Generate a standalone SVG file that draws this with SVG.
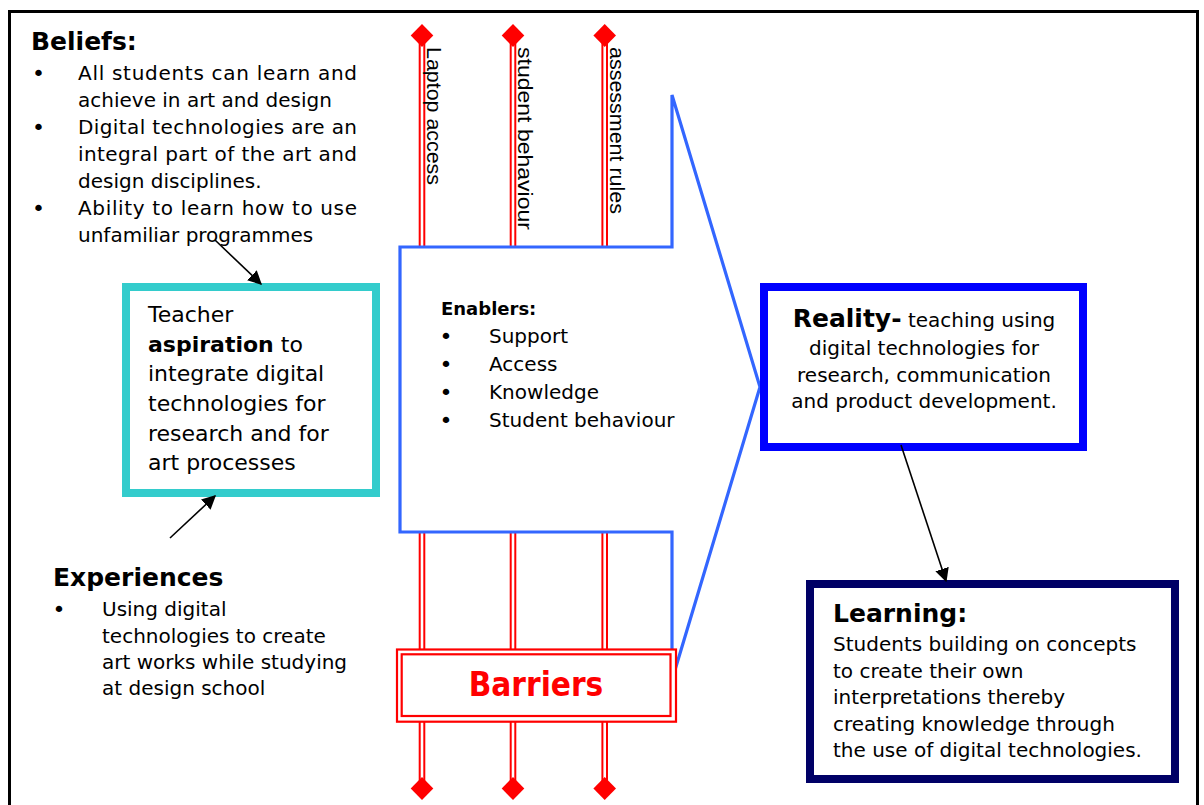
<svg xmlns="http://www.w3.org/2000/svg" width="1204" height="805" viewBox="0 0 1204 805">
<defs>
<style>
text{font-family:"DejaVu Sans",Verdana,sans-serif;fill:#000;font-size:20px}
.b{font-weight:bold}
.h{font-size:25px;font-weight:bold}
.bu{font-size:22px;text-anchor:middle}
.vt{font-family:"Liberation Sans",Arial,sans-serif;font-size:21px}
.red{stroke:#ff0000;stroke-width:2;fill:none}
.dia{fill:#ff0000}
</style>
<marker id="ahb" viewBox="0 0 10 10" refX="9" refY="5" markerWidth="14" markerHeight="14" markerUnits="userSpaceOnUse" orient="auto">
<path d="M0,0 L10,5 L0,10 z" fill="#000"/>
</marker>
</defs>
<rect width="1204" height="805" fill="#fff"/>
<rect x="9.5" y="11.5" width="1188" height="810" fill="none" stroke="#000" stroke-width="3"/>

<g id="forces">
<g id="laptop">
<line class="red" x1="419.7" y1="35" x2="419.7" y2="788"/>
<line class="red" x1="424.3" y1="35" x2="424.3" y2="788"/>
<path class="dia" d="M422,24 L433.3,35.5 L422,47 L410.7,35.5 z"/>
<path class="dia" d="M422,777 L433.3,788.5 L422,800 L410.7,788.5 z"/>
<text class="vt" transform="translate(427,47) rotate(90)" textLength="138" lengthAdjust="spacingAndGlyphs">Laptop access</text>
</g>
<g id="behaviour">
<line class="red" x1="510.7" y1="35" x2="510.7" y2="788"/>
<line class="red" x1="515.3" y1="35" x2="515.3" y2="788"/>
<path class="dia" d="M513,24 L524.3,35.5 L513,47 L501.7,35.5 z"/>
<path class="dia" d="M513,777 L524.3,788.5 L513,800 L501.7,788.5 z"/>
<text class="vt" transform="translate(518,47) rotate(90)" textLength="183" lengthAdjust="spacingAndGlyphs">student behaviour</text>
</g>
<g id="assessment">
<line class="red" x1="602.4" y1="35" x2="602.4" y2="788"/>
<line class="red" x1="607" y1="35" x2="607" y2="788"/>
<path class="dia" d="M604.7,24 L616,35.5 L604.7,47 L593.4,35.5 z"/>
<path class="dia" d="M604.7,777 L616,788.5 L604.7,800 L593.4,788.5 z"/>
<text class="vt" transform="translate(610,47) rotate(90)" textLength="167" lengthAdjust="spacingAndGlyphs">assessment rules</text>
</g>
</g>

<g id="enablers">
<path d="M400,247 L672,247 L672,95 L760,387 L672,680 L672,532 L400,532 z" fill="#fff" stroke="#3366ff" stroke-width="3.2" stroke-linejoin="miter"/>
<text class="b" x="441" y="315" style="font-size:18px">Enablers:</text>
<text class="bu" x="446" y="344">•</text><text x="489" y="343">Support</text>
<text class="bu" x="446" y="372">•</text><text x="489" y="371">Access</text>
<text class="bu" x="446" y="400">•</text><text x="489" y="399">Knowledge</text>
<text class="bu" x="446" y="428">•</text><text x="489" y="427">Student behaviour</text>
</g>

<g id="barriers">
<rect x="397" y="649.5" width="279" height="72.2" fill="#fff" stroke="#ff0000" stroke-width="2.2"/>
<rect x="401.7" y="654.3" width="268.8" height="61.7" fill="none" stroke="#ff0000" stroke-width="2.2"/>
<text x="536" y="696" text-anchor="middle" style="font-size:33px;font-weight:bold;fill:#ff0000;font-stretch:condensed;font-family:'DejaVu Sans Condensed','DejaVu Sans',sans-serif">Barriers</text>
</g>

<g id="beliefs">
<text class="h" x="31" y="50">Beliefs:</text>
<text class="bu" x="38.5" y="81">•</text><text x="78" y="80" textLength="279">All students can learn and</text>
<text x="78" y="107">achieve in art and design</text>
<text class="bu" x="38.5" y="135">•</text><text x="78" y="134" textLength="279">Digital technologies are an</text>
<text x="78" y="161" textLength="279">integral part of the art and</text>
<text x="78" y="188">design disciplines.</text>
<text class="bu" x="38.5" y="216">•</text><text x="78" y="215" textLength="279">Ability to learn how to use</text>
<text x="78" y="242">unfamiliar programmes</text>
</g>

<g id="aspiration">
<rect x="126" y="287" width="250" height="206" fill="#fff" stroke="#33cccc" stroke-width="8"/>
<text x="148" y="322" style="font-size:22px">Teacher</text>
<text x="148" y="352" style="font-size:22px"><tspan class="b">aspiration</tspan> to</text>
<text x="148" y="381" style="font-size:22px">integrate digital</text>
<text x="148" y="411" style="font-size:22px">technologies for</text>
<text x="148" y="441" style="font-size:22px">research and for</text>
<text x="148" y="470" style="font-size:22px">art processes</text>
</g>

<g id="experiences">
<text class="h" x="53" y="586">Experiences</text>
<text class="bu" x="59" y="617">•</text><text x="102" y="616">Using digital</text>
<text x="102" y="643">technologies to create</text>
<text x="102" y="669">art works while studying</text>
<text x="102" y="695">at design school</text>
</g>

<g id="reality">
<rect x="764" y="287" width="319" height="160" fill="#fff" stroke="#0000ff" stroke-width="8"/>
<text x="924" y="327" text-anchor="middle"><tspan class="h">Reality-</tspan> teaching using</text>
<text x="924" y="355" text-anchor="middle">digital technologies for</text>
<text x="924" y="382" text-anchor="middle">research, communication</text>
<text x="924" y="408" text-anchor="middle">and product development.</text>
</g>

<g id="learning">
<rect x="810" y="584" width="365" height="195" fill="#fff" stroke="#000066" stroke-width="8"/>
<text class="h" x="833" y="622">Learning:</text>
<text x="833" y="651">Students building on concepts</text>
<text x="833" y="678">to create their own</text>
<text x="833" y="704">interpretations thereby</text>
<text x="833" y="731">creating knowledge through</text>
<text x="833" y="757">the use of digital technologies.</text>
</g>

<g id="connectors">
<line x1="215" y1="240" x2="261" y2="284" stroke="#000" stroke-width="1.6" marker-end="url(#ahb)"/>
<line x1="170" y1="538" x2="215" y2="496" stroke="#000" stroke-width="1.6" marker-end="url(#ahb)"/>
<line x1="901" y1="445" x2="946" y2="581" stroke="#000" stroke-width="1.6" marker-end="url(#ahb)"/>
</g>
</svg>
